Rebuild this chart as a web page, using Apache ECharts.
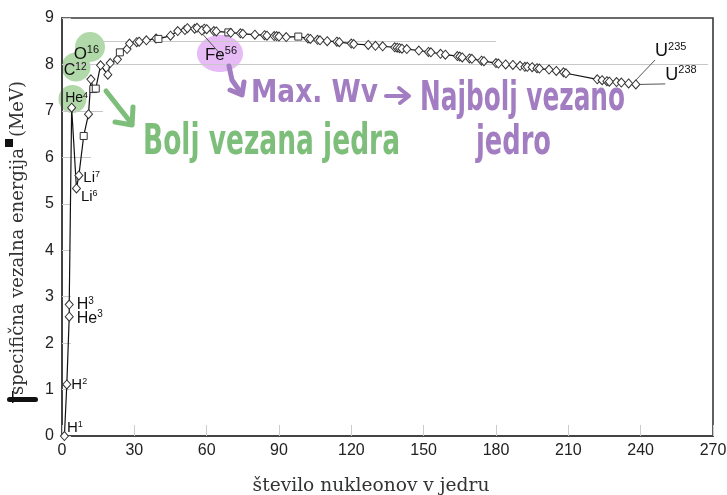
<!DOCTYPE html>
<html><head><meta charset="utf-8">
<script src="https://cdn.jsdelivr.net/npm/echarts@6/dist/echarts.min.js"></script>
<style>html,body{margin:0;padding:0;background:#fff}#c{width:727px;height:495px}</style>
</head><body><div id="c"></div>
<script>
// ---------------- data ----------------
const massNumbers = [1,2,3,3,4,6,7,9,11,12,13,14,16,19,20,23,24,27,28,31,32,35,39,40,45,48,51,52,55,56,59,58,60,63,64,69,70,74,75,80,84,85,88,89,90,93,98,102,103,106,107,110,114,115,120,121,127,130,133,138,139,140,141,143,148,152,153,157,159,164,165,166,169,170,174,175,180,181,184,187,190,192,193,195,197,198,202,205,208,209,222,224,226,227,230,232,235,238];
const bindingEnergy = [0,1.11,2.57,2.83,7.07,5.33,5.61,6.46,6.93,7.68,7.47,7.48,7.98,7.78,8.03,8.11,8.26,8.33,8.45,8.48,8.49,8.52,8.56,8.55,8.62,8.72,8.74,8.78,8.77,8.79,8.77,8.73,8.76,8.72,8.71,8.69,8.68,8.67,8.66,8.64,8.63,8.62,8.61,8.61,8.60,8.59,8.60,8.56,8.55,8.53,8.52,8.50,8.49,8.48,8.45,8.44,8.42,8.40,8.39,8.37,8.36,8.35,8.34,8.33,8.30,8.27,8.26,8.23,8.21,8.18,8.17,8.15,8.13,8.12,8.08,8.07,8.03,8.02,8.00,7.99,7.97,7.95,7.95,7.94,7.92,7.91,7.89,7.86,7.83,7.81,7.68,7.66,7.64,7.63,7.62,7.61,7.59,7.57];
const squareMarkerIndex = [7,10,11,16,23,35,46];
const labelIndex   = [0,1,2,3,4,5,6,9,12,29,96,97];
const labelElement = ['H','H','He','H','He','Li','Li','C','O','Fe','U','U'];
const xMin = 0, xMax = 270, xStep = 30;
const yMin = 0, yMax = 9, yStep = 1;
// partial reference lines [value, from A, to A]
const refLines = [[8.5,17,180],[8,0,268],[7,0,17],[6,0,12]];
const yTitle = 'specifična vezalna energija';
const yUnit = '(MeV)';
const xTitle = 'število nukleonov v jedru';
const noteGreen = 'Bolj vezana jedra';
const notePurple1 = 'Max. Wv';
const notePurple2 = 'Najbolj vezano';
const notePurple3 = 'jedro';

// --------------- styles ---------------
const labelStyle = {
  0:{pos:'right',off:[-7,-8],fs:15},
  1:{pos:'right',off:[-5,0],fs:15},
  2:{pos:'right',off:[-2,1],fs:16},
  3:{pos:'right',off:[-2,0],fs:16},
  4:{pos:'top',off:[5,8],fs:14},
  5:{pos:'right',off:[-5,8],fs:15},
  6:{pos:'right',off:[-5,2],fs:15},
  9:{pos:'left',off:[5,-9],fs:16,line:true},
  12:{pos:'left',off:[8,-12],fs:17,line:true},
  29:{pos:'bottom',off:[24,8],fs:17,line:true},
  96:{pos:'right',off:[17,-33],fs:18,line:true},
  97:{pos:'right',off:[20,-10],fs:18,line:true}
};
const SANS = '"Liberation Sans", Arial, sans-serif';
const SERIF = '"DejaVu Serif", serif';
const HAND = '"DejaVu Sans Condensed", "DejaVu Sans", sans-serif';
const GREEN = '#7dbe7a', PURPLE = '#a27dc1';

const seriesData = massNumbers.map((a, i) => {
  const item = { value: [a, bindingEnergy[i]] };
  if (squareMarkerIndex.includes(i)) { item.symbol = 'rect'; item.symbolSize = [7,7]; }
  const li = labelIndex.indexOf(i);
  if (li >= 0) {
    const st = labelStyle[i];
    item.label = {
      show: true, position: st.pos, offset: st.off, distance: 5,
      formatter: '{a|' + labelElement[li] + '}{b|' + a + '}',
      rich: {
        a: { fontSize: st.fs, fontFamily: SANS, color: '#111', verticalAlign: 'bottom' },
        b: { fontSize: Math.round(st.fs*0.62), fontFamily: SANS, color: '#111', verticalAlign: 'bottom', padding: [0,0,Math.round(st.fs*0.42),0] }
      }
    };
    if (st.line) item.labelLine = { show: true, lineStyle: { color: '#555', width: 1 } };
  }
  return item;
});

const markLineData = refLines.map(r => [{ coord: [r[1], r[0]] }, { coord: [r[2], r[0]] }]);

function measure(text, font) {
  const c = document.createElement('canvas').getContext('2d');
  c.font = font; return c.measureText(text).width;
}
function fitFont(text, family, width) {
  const s = 20 * width / measure(text, '20px ' + family);
  return s.toFixed(2) + 'px ' + family;
}
function handText(text, left, top, width, size, color) {
  const font = 'bold ' + size + 'px ' + HAND;
  const sx = width / measure(text, font);
  return { type: 'text', x: left, y: top, scaleX: sx, z: 10,
    style: { text: text, fill: color, font: font, textAlign: 'left', textVerticalAlign: 'top' } };
}
const yTitleFont = fitFont(yTitle, SERIF, 247);
const yUnitFont = fitFont(yUnit, SERIF, 56);
const xTitleFont = fitFont(xTitle, SERIF, 237);

const chart = echarts.init(document.getElementById('c'), null, { renderer: 'canvas' });
chart.setOption({
  animation: false,
  backgroundColor: '#fff',
  grid: { left: 62, right: 14, top: 18, bottom: 59, show: true, borderColor: '#3a3a3a', borderWidth: 1.6,
          containLabel: false, outerBoundsMode: 'none' },
  xAxis: {
    type: 'value', min: xMin, max: xMax, interval: xStep,
    axisLine: { lineStyle: { color: '#444', width: 2 } },
    axisTick: { inside: true, length: 11, lineStyle: { color: '#ccc' } },
    splitLine: { show: false },
    axisLabel: { fontSize: 16, color: '#222', fontFamily: SANS, margin: 7, hideOverlap: false }
  },
  yAxis: {
    type: 'value', min: yMin, max: yMax, interval: yStep,
    axisLine: { lineStyle: { color: '#444', width: 2 } },
    axisTick: { inside: true, length: 9, lineStyle: { color: '#ccc' } },
    splitLine: { show: false },
    axisLabel: { fontSize: 16, color: '#222', fontFamily: SANS, margin: 8 }
  },
  series: [{
    type: 'line', data: seriesData, showAllSymbol: true,
    symbol: 'diamond', symbolSize: [8, 9],
    itemStyle: { color: '#fff', borderColor: '#333', borderWidth: 1 },
    lineStyle: { color: '#111', width: 1.2 },
    z: 5,
    markLine: { silent: true, symbol: 'none', label: { show: false },
      lineStyle: { color: '#c8c8c8', width: 1, type: 'solid' }, data: markLineData }
  }],
  graphic: [
    // highlight circles
    { type: 'circle', shape: { cx: 72.5, cy: 99, r: 14 }, style: { fill: '#b1d8a9' }, z: -1 },
    { type: 'circle', shape: { cx: 76, cy: 67, r: 14.5 }, style: { fill: '#b1d8a9' }, z: -1 },
    { type: 'circle', shape: { cx: 90, cy: 47, r: 15 }, style: { fill: '#b1d8a9' }, z: -1 },
    { type: 'ellipse', shape: { cx: 220, cy: 53.5, rx: 23, ry: 18.5 }, style: { fill: '#e6bbf6' }, z: -1 },
    // axis titles
    { type: 'text', x: 27, y: 395, rotation: Math.PI/2, z: 10,
      style: { text: yTitle, font: yTitleFont, fill: '#333', textAlign: 'left', textVerticalAlign: 'bottom' } },
    { type: 'text', x: 27, y: 137, rotation: Math.PI/2, z: 10,
      style: { text: yUnit, font: yUnitFont, fill: '#333', textAlign: 'left', textVerticalAlign: 'bottom' } },
    { type: 'text', x: 371, y: 486, z: 10,
      style: { text: xTitle, font: xTitleFont, fill: '#333', textAlign: 'center', textVerticalAlign: 'middle' } },
    { type: 'rect', shape: { x: 5, y: 139, width: 8, height: 8 }, style: { fill: '#111' }, z: 11 },
    { type: 'rect', shape: { x: 7, y: 397, width: 31, height: 5, r: 2.5 }, style: { fill: '#111' }, z: 11 },
    { type: 'rect', shape: { x: 12, y: 391, width: 1.5, height: 12 }, style: { fill: '#111' }, z: 11 },
    // handwritten notes
    handText(noteGreen, 143, 122, 257, 42, GREEN),
    handText(notePurple1, 251, 78, 127, 32, PURPLE),
    handText(notePurple2, 420, 80, 205, 40, PURPLE),
    handText(notePurple3, 476, 124, 75, 40, PURPLE),
    // arrows
    { type: 'polyline', shape: { points: [[106,91],[132,124]] }, style: { stroke: GREEN, lineWidth: 5, lineCap: 'round' }, z: 10 },
    { type: 'polyline', shape: { points: [[115,122],[132,125],[133,107]] }, style: { stroke: GREEN, fill: null, lineWidth: 5, lineCap: 'round', lineJoin: 'round' }, z: 10 },
    { type: 'polyline', shape: { points: [[229,66],[232,80],[241,93]] }, style: { stroke: PURPLE, fill: null, lineWidth: 5, lineCap: 'round', lineJoin: 'round' }, z: 10 },
    { type: 'polyline', shape: { points: [[230,90],[242,95],[244,82]] }, style: { stroke: PURPLE, fill: null, lineWidth: 5, lineCap: 'round', lineJoin: 'round' }, z: 10 },
    { type: 'polyline', shape: { points: [[386,96],[408,96]] }, style: { stroke: PURPLE, lineWidth: 4, lineCap: 'round' }, z: 10 },
    { type: 'polyline', shape: { points: [[399,88],[409,96],[400,103]] }, style: { stroke: PURPLE, fill: null, lineWidth: 4, lineCap: 'round', lineJoin: 'round' }, z: 10 }
  ]
});
</script></body></html>
